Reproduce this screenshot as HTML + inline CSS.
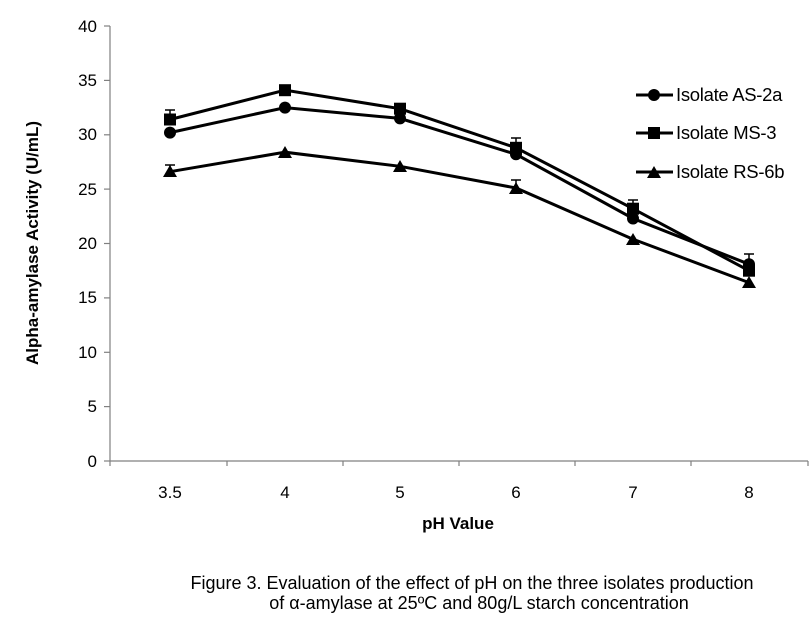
<!DOCTYPE html>
<html><head><style>body{margin:0;background:#fff}svg{display:block}</style></head><body>
<svg width="811" height="620" xmlns="http://www.w3.org/2000/svg" font-family="Liberation Sans, sans-serif">
<g stroke="#808080" stroke-width="1.2">
<line x1="110" y1="26" x2="110" y2="461"/>
<line x1="110" y1="461" x2="808" y2="461"/>
<line x1="104" y1="26" x2="110" y2="26"/><line x1="104" y1="80.4" x2="110" y2="80.4"/><line x1="104" y1="134.8" x2="110" y2="134.8"/><line x1="104" y1="189.1" x2="110" y2="189.1"/><line x1="104" y1="243.5" x2="110" y2="243.5"/><line x1="104" y1="297.9" x2="110" y2="297.9"/><line x1="104" y1="352.3" x2="110" y2="352.3"/><line x1="104" y1="406.6" x2="110" y2="406.6"/><line x1="104" y1="461" x2="110" y2="461"/>
<line x1="110" y1="461" x2="110" y2="466"/><line x1="227" y1="461" x2="227" y2="466"/><line x1="343" y1="461" x2="343" y2="466"/><line x1="459" y1="461" x2="459" y2="466"/><line x1="575" y1="461" x2="575" y2="466"/><line x1="691" y1="461" x2="691" y2="466"/><line x1="808" y1="461" x2="808" y2="466"/>
</g>
<g font-size="17" text-anchor="end" fill="#000">
<text x="97" y="32">40</text><text x="97" y="86">35</text><text x="97" y="140">30</text><text x="97" y="195">25</text><text x="97" y="249">20</text><text x="97" y="303">15</text><text x="97" y="358">10</text><text x="97" y="412">5</text><text x="97" y="467">0</text>
</g>
<g font-size="17" text-anchor="middle">
<text x="170" y="498">3.5</text><text x="285" y="498">4</text><text x="400" y="498">5</text><text x="516" y="498">6</text><text x="633" y="498">7</text><text x="749" y="498">8</text>
<text x="458" y="529" font-weight="bold">pH Value</text>
<text transform="translate(38,243) rotate(-90)" font-weight="bold">Alpha-amylase Activity (U/mL)</text>
<text x="472" y="589" font-size="18">Figure 3. Evaluation of the effect of pH on the three isolates production</text>
<text x="479" y="609" font-size="18">of α-amylase at 25ºC and 80g/L starch concentration</text>
</g>
<g stroke="#000" stroke-width="3" fill="none">
<polyline points="170,132.6 285,107.6 400,118.4 516,154.3 633,218.5 749,264.2"/>
<polyline points="170,119.5 285,90.2 400,108.7 516,147.8 633,208.7 749,270.7"/>
<polyline points="170,171.7 285,152.2 400,166.3 516,188.0 633,239.2 749,282.6"/>
</g>
<g stroke="#000" stroke-width="1.5">
<line x1="170" y1="119" x2="170" y2="110"/><line x1="165" y1="110" x2="175" y2="110"/>
<line x1="516" y1="147" x2="516" y2="138"/><line x1="511" y1="138" x2="521" y2="138"/>
<line x1="633" y1="208" x2="633" y2="200"/><line x1="628" y1="200" x2="638" y2="200"/>
<line x1="749" y1="264" x2="749" y2="254"/><line x1="744" y1="254" x2="754" y2="254"/>
<line x1="170" y1="171" x2="170" y2="165"/><line x1="165" y1="165" x2="175" y2="165"/>
<line x1="516" y1="188" x2="516" y2="180"/><line x1="511" y1="180" x2="521" y2="180"/>
</g>
<g fill="#000">
<circle cx="170" cy="132.6" r="6"/><circle cx="285" cy="107.6" r="6"/><circle cx="400" cy="118.4" r="6"/><circle cx="516" cy="154.3" r="6"/><circle cx="633" cy="218.5" r="6"/><circle cx="749" cy="264.2" r="6"/>
<rect x="164" y="113.5" width="12" height="12"/><rect x="279" y="84.2" width="12" height="12"/><rect x="394" y="102.7" width="12" height="12"/><rect x="510" y="141.8" width="12" height="12"/><rect x="627" y="202.7" width="12" height="12"/><rect x="743" y="264.7" width="12" height="12"/>
<polygon points="170,165 163,177 177,177"/><polygon points="285,146 278,158 292,158"/><polygon points="400,160 393,172 407,172"/><polygon points="516,182 509,194 523,194"/><polygon points="633,233 626,245 640,245"/><polygon points="749,276 742,288 756,288"/>
</g>
<g stroke="#000" stroke-width="3"><line x1="636" y1="95" x2="673" y2="95"/><line x1="636" y1="133" x2="673" y2="133"/><line x1="636" y1="172" x2="673" y2="172"/></g>
<circle cx="654" cy="95" r="6"/><rect x="648" y="127" width="12" height="12"/><polygon points="654,166 647,178 661,178"/>
<g font-size="18.5" letter-spacing="-0.3"><text x="676" y="101">Isolate AS-2a</text><text x="676" y="139">Isolate MS-3</text><text x="676" y="178">Isolate RS-6b</text></g>
</svg>
</body></html>
